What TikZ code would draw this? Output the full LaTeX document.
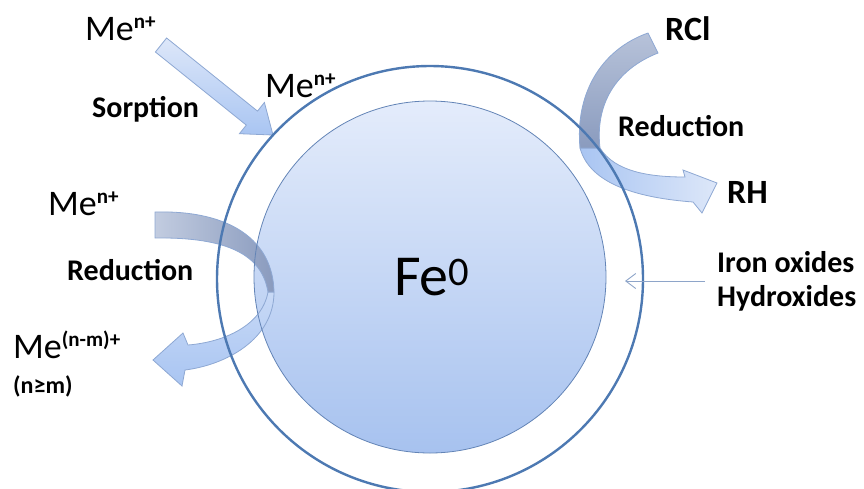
\documentclass[tikz,border=0pt]{standalone}
\usepackage{fontspec}
\setmainfont{Carlito}
\usetikzlibrary{arrows.meta}
\definecolor{shellline}{HTML}{4D79B2}
\definecolor{coreline}{HTML}{6384B6}
\definecolor{coretop}{HTML}{E4ECFB}
\definecolor{corebot}{HTML}{A7C2EF}
\definecolor{arrline}{HTML}{8EA8D3}
\definecolor{arrlight}{HTML}{DDE7F9}
\definecolor{arrblue}{HTML}{A9C5F2}
\definecolor{ribdark}{HTML}{8A9BBE}
\definecolor{ribgrey}{HTML}{C2CCE0}
\definecolor{pointer}{HTML}{8EA5C9}
\newcommand{\ionsup}[1]{\raisebox{0.32em}{\fontsize{21}{21}\selectfont\bfseries #1}}
\tikzset{
  ionlabel/.style={anchor=base west, inner sep=0pt, font=\fontsize{36}{40}\selectfont},
  proclabel/.style={anchor=base west, inner sep=0pt, font=\fontsize{30}{34}\selectfont\bfseries},
  species/.style={anchor=base west, inner sep=0pt, font=\fontsize{34}{38}\selectfont\bfseries},
  blockarrow/.style={draw=arrline, line width=0.8pt},
  thinpointer/.style={-{Straight Barb[length=10pt,width=15pt]}, draw=pointer, line width=0.9pt}
}

\begin{document}
\begin{tikzpicture}[x=1pt, y=-1pt]
  \useasboundingbox (0,0) rectangle (864,488);
  \shade[top color=coretop, bottom color=corebot] (430,277) circle[radius=176pt];
  \node[font=\fontsize{58}{62}\selectfont, anchor=base, inner sep=0pt] (core) at (432,295) {Fe\textsuperscript{0}};

  \shade[blockarrow, top color=arrlight, bottom color=arrblue]
    (166.6,38) -- (257.5,111.1) -- (264.4,102.5) -- (273,135) -- (239.4,133.7)
    -- (246.3,125.1) -- (155.4,52) -- cycle;

  \shade[blockarrow, top color=arrlight!60!arrblue, bottom color=arrblue]
    (268,292) .. controls (262,325) and (225,342) .. (188,345) -- (183,333) -- (153,360)
    -- (182,386) -- (185,370) .. controls (225,365) and (274,340) .. (274,292) -- cycle;
  \shade[blockarrow, left color=ribgrey, right color=ribdark]
    (155,212) .. controls (230,210) and (273,240) .. (274,292)
    -- (268,292) .. controls (262,255) and (228,237) .. (155,238) -- cycle;

  \shade[blockarrow, left color=arrblue, right color=arrlight]
    (580,148) .. controls (590,185) and (640,198) .. (693,202) -- (702,213) -- (717,183)
    -- (683,170) -- (685,177) .. controls (650,177) and (615,172) .. (600,148) -- cycle;
  \shade[blockarrow, top color=ribgrey!80!ribdark, bottom color=ribdark]
    (648,33) .. controls (600,50) and (575,95) .. (580,148)
    -- (600,148) .. controls (595,105) and (615,70) .. (658,53) -- cycle;

  \draw[shellline, line width=2.4pt] (430,279) circle[radius=213pt];
  \draw[coreline, line width=0.8pt] (430,277) circle[radius=176pt];

  \node[ionlabel] (metop) at (85,40) {Me\ionsup{n+}};
  \node[ionlabel] (mesurf) at (265,97) {Me\ionsup{n+}};
  \node[proclabel] (sorp) at (92,117) {Sorption};
  \node[ionlabel] (meleft) at (48,215) {Me\ionsup{n+}};
  \node[proclabel] (redleft) at (67,280) {Reduction};
  \node[ionlabel] (mered) at (13,358) {Me\ionsup{(n-m)+}};
  \node[anchor=base west, inner sep=0pt, font=\fontsize{24}{26}\selectfont\bfseries] (cond) at (13,393) {(n≥m)};
  \node[species] (rcl) at (665,40) {RCl};
  \node[proclabel] (redright) at (618,136) {Reduction};
  \node[species] (rh) at (727,203) {RH};
  \node[proclabel, anchor=west, align=left] (oxides) at (717,281) {Iron oxides\\Hydroxides};
  \coordinate (shellpt) at (625,280);
  \draw[thinpointer, shorten <=12pt] (oxides.west) -- (shellpt |- oxides.west);
\end{tikzpicture}
\end{document}
